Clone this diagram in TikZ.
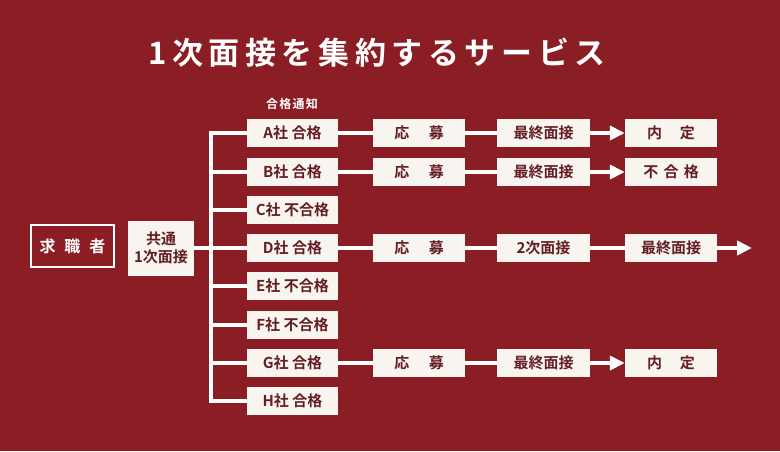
\documentclass[tikz,border=0pt]{standalone}
\usepackage{fontspec}
\setmainfont{Noto Sans CJK JP}[BoldFont={Noto Sans CJK JP Bold}]
\usepackage{tikz}
\usetikzlibrary{positioning,arrows.meta}

\definecolor{bgred}{RGB}{139,29,36}
\definecolor{boxwhite}{RGB}{248,245,241}
\definecolor{boxtext}{RGB}{100,30,34}

\begin{document}
\begin{tikzpicture}[
  x=1pt, y=-1pt,
  font=\bfseries,
  box/.style={fill=boxwhite, draw=none, inner sep=0pt,
  minimum width=92pt, minimum height=28pt, text=boxtext,
  font=\fontsize{15}{18}\selectfont\bfseries, align=center},
  link/.style={draw=white, line width=4pt},
  flow/.style={link, -{Triangle[length=15pt,width=14pt]}},
  title/.style={text=white, font=\fontsize{31}{33}\selectfont\bfseries\addfontfeature{LetterSpace=18}},
]
\useasboundingbox (0,0) rectangle (780,451);
\fill[bgred] (0,0) rectangle (780,451);

% title
\node[title] (head) at (377,53) {1次面接を集約するサービス};
\node[text=white, font=\fontsize{12}{14}\selectfont\bfseries\addfontfeature{LetterSpace=10}] (notice) at (292,104) {合格通知};

% left side
\node[draw=white, line width=1.5pt, minimum width=83pt, minimum height=42pt, inner sep=0pt,
  text=white, font=\fontsize{16}{18}\selectfont\bfseries] (seeker) at (72.5,246) {求\hspace{0.55em}職\hspace{0.55em}者};
\node[box, minimum width=66pt, minimum height=55pt] (common) at (161,248) {共通\\1次面接};

% companies
\node[box, minimum width=91pt] (cA) at (292.5,133) {A社 合格};
\node[box, minimum width=91pt] (cB) at (292.5,172) {B社 合格};
\node[box, minimum width=91pt] (cC) at (292.5,210) {C社 不合格};
\node[box, minimum width=91pt] (cD) at (292.5,248) {D社 合格};
\node[box, minimum width=91pt] (cE) at (292.5,286) {E社 不合格};
\node[box, minimum width=91pt] (cF) at (292.5,325) {F社 不合格};
\node[box, minimum width=91pt] (cG) at (292.5,363) {G社 合格};
\node[box, minimum width=91pt] (cH) at (292.5,401) {H社 合格};

% flows
\node[box] (applyA) at (419,133) {応\hspace{1.3em}募};
\node[box, minimum width=93pt] (finalA) at (543.5,133) {最終面接};
\node[box] (resultA) at (671,133) {内\hspace{1.2em}定};

\node[box] (applyB) at (419,172) {応\hspace{1.3em}募};
\node[box, minimum width=93pt] (finalB) at (543.5,172) {最終面接};
\node[box] (resultB) at (671,172) {不\hspace{0.35em}合\hspace{0.35em}格};

\node[box] (applyD) at (419,248) {応\hspace{1.3em}募};
\node[box, minimum width=93pt] (secondD) at (543.5,248) {2次面接};
\node[box] (finalD) at (671,248) {最終面接};
\coordinate (moreD) at (752,248);

\node[box] (applyG) at (419,363) {応\hspace{1.3em}募};
\node[box, minimum width=93pt] (finalG) at (543.5,363) {最終面接};
\node[box] (resultG) at (671,363) {内\hspace{1.2em}定};

% tree
\coordinate (trunk) at (211,0);
\draw[link] (cA.west) -| (trunk |- cH.west) -- (cH.west);
\foreach \c in {cB,cC,cD,cE,cF,cG}
  \draw[link] (trunk |- \c.west) -- (\c.west);
\draw[link] (common.east) -- (trunk |- common.east);

\draw[link] (cA) -- (applyA) -- (finalA);
\draw[flow] (finalA) -- (resultA);
\draw[link] (cB) -- (applyB) -- (finalB);
\draw[flow] (finalB) -- (resultB);
\draw[link] (cD) -- (applyD) -- (secondD) -- (finalD);
\draw[flow] (finalD) -- (moreD);
\draw[link] (cG) -- (applyG) -- (finalG);
\draw[flow] (finalG) -- (resultG);
\end{tikzpicture}
\end{document}
